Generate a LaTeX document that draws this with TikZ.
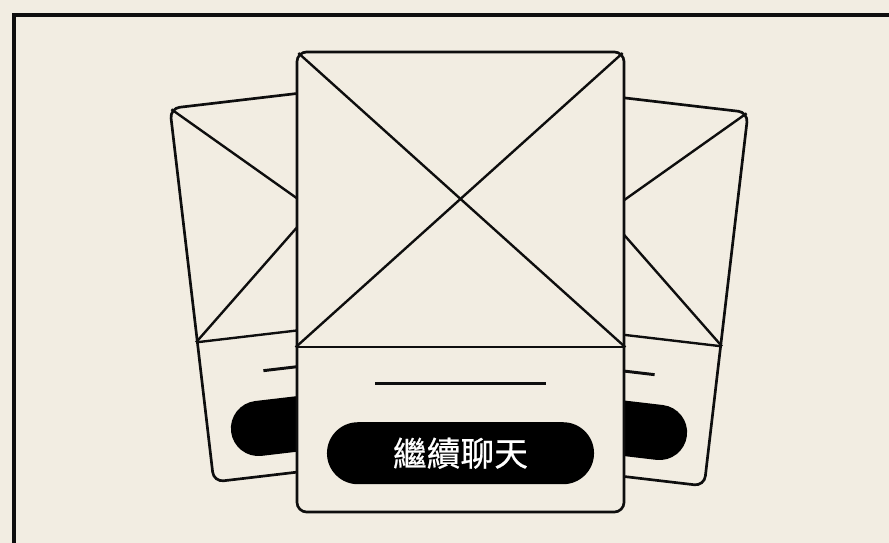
\documentclass[tikz,border=0pt]{standalone}
\usepackage{fontspec}
\newfontfamily\cjktc[FakeBold=0.6]{Noto Sans CJK TC}
\usetikzlibrary{positioning,calc,shapes.misc}
\definecolor{wfPaper}{HTML}{F2EDE2}
\definecolor{wfInk}{HTML}{0E0E0E}
\tikzset{
    wfCard/.style={
        rectangle,
        draw=wfInk,
        fill=wfPaper,
        line width=1.9pt,
        rounded corners=7pt,
        inner sep=0pt
    },
    wfLine/.style={draw=wfInk, line width=1.7pt},
    wfDash/.style={draw=wfInk, line width=2.1pt},
    wfPill/.style={
        rounded rectangle,
        fill=black,
        text=white,
        inner sep=0pt,
        font=\cjktc\fontsize{24}{27}\selectfont
    },
    wfFrame/.style={draw=wfInk, line width=2.2pt}
}
% wireframe inside a card node: #1 card name, #2 where the picture ends
\newcommand{\wfCardDetail}[2]{
    \coordinate (#1-sepW) at ($(#1.north west)!#2!(#1.south west)$);
    \coordinate (#1-sepE) at ($(#1.north east)!#2!(#1.south east)$);
    \draw[wfLine, shorten <=2.6pt] (#1.north west) -- (#1-sepE);
    \draw[wfLine, shorten <=2.6pt] (#1.north east) -- (#1-sepW);
    \draw[wfLine] (#1-sepW) -- (#1-sepE);
    \coordinate (#1-barW) at ($(#1.north west)!0.72!(#1.south west)$);
    \coordinate (#1-barE) at ($(#1.north east)!0.72!(#1.south east)$);
    \draw[wfDash] ($(#1-barW)!0.242!(#1-barE)$) -- ($(#1-barW)!0.758!(#1-barE)$);
}

\begin{document}
\begin{tikzpicture}[x=0.025cm, y=-0.025cm]
\useasboundingbox (0,0) rectangle (889,543);
\clip (0,0) rectangle (889,543);
\fill[wfPaper] (0,0) rectangle (889,543);
\draw[wfFrame] (14,15) rectangle (910,570);

% side cards
\node[wfCard, minimum width=6.5cm, minimum height=9.4cm, rotate=6.7] (cardL) at (321,280) {};
\wfCardDetail{cardL}{0.625}
\node[wfPill, minimum width=5.35cm, minimum height=1.38cm, rotate=6.7]
    (btnL) at ($(cardL.north)!0.87!(cardL.south)$) {};

\node[wfCard, minimum width=6.5cm, minimum height=9.4cm, rotate=-6.7] (cardR) at (597,284) {};
\wfCardDetail{cardR}{0.625}
\node[wfPill, minimum width=5.35cm, minimum height=1.38cm, rotate=-6.7]
    (btnR) at ($(cardR.north)!0.87!(cardR.south)$) {};

% front card
\node[wfCard, minimum width=8.175cm, minimum height=11.5cm] (cardC) at (460.5,282) {};
\wfCardDetail{cardC}{0.641}
\node[wfPill, minimum width=6.675cm, minimum height=1.55cm]
    (btnC) at ($(cardC.north)!0.87!(cardC.south)$) {繼續聊天};
\end{tikzpicture}
\end{document}
